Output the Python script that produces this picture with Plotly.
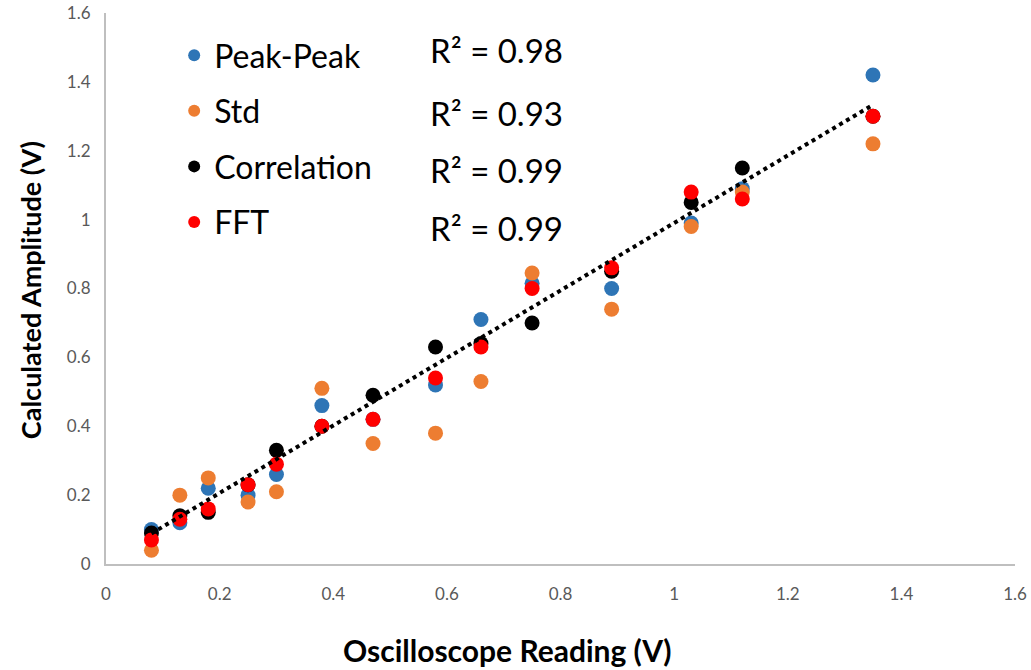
import numpy as np
import plotly.graph_objects as go

x_vals = [0.08, 0.13, 0.18, 0.25, 0.30, 0.38, 0.47, 0.58, 0.66, 0.75, 0.89, 1.03, 1.12, 1.35]
peak_peak = [0.10, 0.12, 0.22, 0.20, 0.26, 0.46, 0.42, 0.52, 0.71, 0.815, 0.80, 0.99, 1.09, 1.42]
std_vals = [0.04, 0.20, 0.25, 0.18, 0.21, 0.51, 0.35, 0.38, 0.53, 0.845, 0.74, 0.98, 1.08, 1.22]
correlation = [0.09, 0.14, 0.15, 0.23, 0.33, 0.40, 0.49, 0.63, 0.64, 0.70, 0.85, 1.05, 1.15, 1.30]
fft_vals = [0.07, 0.13, 0.16, 0.23, 0.29, 0.40, 0.42, 0.54, 0.63, 0.80, 0.86, 1.08, 1.06, 1.30]
series_names = ["Peak-Peak", "Std", "Correlation", "FFT"]
series_colors = ["#2E75B6", "#ED7D31", "#000000", "#FF0000"]
r2_labels = ["R² = 0.98", "R² = 0.93", "R² = 0.99", "R² = 0.99"]

FONT = "Lato"
fig = go.Figure()
for name, vals, col in zip(series_names, [peak_peak, std_vals, correlation, fft_vals], series_colors):
    fig.add_trace(go.Scatter(x=x_vals, y=vals, mode="markers", name=name,
                             legendgroup=name,
                             marker=dict(color=col, size=15)))

# linear trendline (fit on Correlation series)
m, b = np.polyfit(x_vals, correlation, 1)
xt = np.array([min(x_vals), max(x_vals)])
fig.add_trace(go.Scatter(x=xt, y=m * xt + b, mode="lines", showlegend=False,
                         line=dict(color="black", width=4, dash="4px,4px"), hoverinfo="skip"))

r2_y = [0.933, 0.819, 0.715, 0.610]
for txt, yy in zip(r2_labels, r2_y):
    fig.add_annotation(text=txt, x=0.354, y=yy, xref="paper", yref="paper",
                       xanchor="left", yanchor="middle", showarrow=False,
                       font=dict(family=FONT, size=33, color="black"))

fig.add_annotation(text="<b>Oscilloscope Reading (V)</b>", x=0.442, y=-0.156,
                   xref="paper", yref="paper", xanchor="center", yanchor="middle",
                   showarrow=False, font=dict(family=FONT, size=30, color="black"))
fig.add_annotation(text="<b>Calculated Amplitude (V)</b>", x=-0.0836, y=0.497,
                   xref="paper", yref="paper", xanchor="center", yanchor="middle",
                   textangle=-90, showarrow=False,
                   font=dict(family=FONT, size=27, color="black"))

axis_common = dict(range=[0, 1.6], dtick=0.2, showgrid=False, zeroline=False,
                   showline=True, linecolor="#BFBFBF", linewidth=2, ticks="",
                   automargin=False,
                   tickfont=dict(family=FONT, size=17, color="#595959"))
fig.update_layout(
    width=1031, height=670,
    margin=dict(l=106, r=16, t=13, b=106),
    paper_bgcolor="white", plot_bgcolor="white",
    xaxis=dict(ticklabelstandoff=14, **axis_common),
    yaxis=dict(ticklabelstandoff=10, **axis_common),
    legend=dict(x=0.075, y=0.973, xanchor="left", yanchor="top",
                traceorder="grouped", tracegroupgap=11,
                font=dict(family=FONT, size=32, color="black"),
                bgcolor="rgba(0,0,0,0)", itemsizing="constant"),
    showlegend=True,
)
fig.write_html("out.html")
